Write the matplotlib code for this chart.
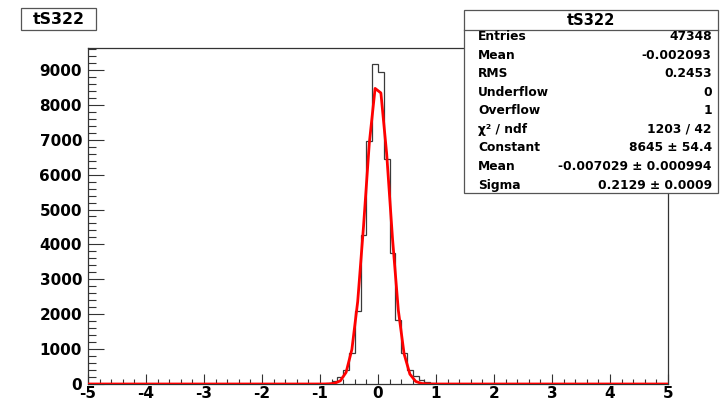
import numpy as np
import matplotlib
matplotlib.use("Agg")
import matplotlib.pyplot as plt
from matplotlib.patches import Rectangle
from matplotlib.lines import Line2D
from matplotlib.ticker import MultipleLocator, FixedLocator

# ---------------- data ----------------
hist_name = "tS322"
x_min, x_max, n_bins = -5.0, 5.0, 100

# lower edges of the non-empty bins and their contents
bin_lows = [-1.1, -1.0, -0.9, -0.8, -0.7, -0.6, -0.5, -0.4, -0.3, -0.2, -0.1,
            0.0, 0.1, 0.2, 0.3, 0.4, 0.5, 0.6, 0.7, 0.8, 0.9, 1.0, 1.1, 1.2]
bin_counts = [5, 12, 30, 75, 205, 410, 890, 2090, 4270, 6960, 9170,
              8930, 6440, 3760, 1840, 890, 400, 220, 110, 55, 25, 12, 6, 3]

fit_constant = 8645.0
fit_mean = -0.007029
fit_sigma = 0.2129

stats_labels = ["Entries", "Mean", "RMS", "Underflow", "Overflow",
                "χ² / ndf", "Constant", "Mean", "Sigma"]
stats_values = ["47348", "-0.002093", "0.2453", "0", "1",
                "1203 / 42", "8645 ± 54.4", "-0.007029 ± 0.000994",
                "0.2129 ± 0.0009"]

y_ticks = [0, 1000, 2000, 3000, 4000, 5000, 6000, 7000, 8000, 9000]
x_ticks = [-5, -4, -3, -2, -1, 0, 1, 2, 3, 4, 5]

# ---------------- figure ----------------
W, H = 724, 399
fig = plt.figure(figsize=(W / 100, H / 100), dpi=100)
fig.patch.set_facecolor("white")

def fx(px):
    return px / W

def fy(py):
    return 1 - py / H

left, right, top, bottom = 88, 668, 48, 384
ax = fig.add_axes([fx(left), fy(bottom), (right - left) / W, (bottom - top) / H])

edges = np.linspace(x_min, x_max, n_bins + 1)
counts = np.zeros(n_bins)
for lo, c in zip(bin_lows, bin_counts):
    idx = int(round((lo - x_min) / (x_max - x_min) * n_bins))
    counts[idx] = c

ax.stairs(counts, edges, color="#3a3a3a", lw=0.9, baseline=0, zorder=2)

centers = 0.5 * (edges[:-1] + edges[1:])
fx_pts = np.concatenate([[x_min], centers, [x_max]])
fy_pts = fit_constant * np.exp(-0.5 * ((fx_pts - fit_mean) / fit_sigma) ** 2)
ax.plot(fx_pts, fy_pts, color="#ff0000", lw=2.0, zorder=3, solid_joinstyle="round")

ax.set_xlim(x_min, x_max)
ax.set_ylim(0, 1.05 * counts.max())

ax.xaxis.set_major_locator(FixedLocator(x_ticks))
ax.xaxis.set_minor_locator(MultipleLocator(0.2))
ax.yaxis.set_major_locator(FixedLocator(y_ticks))
ax.yaxis.set_minor_locator(MultipleLocator(200))

ax.tick_params(axis="both", which="both", direction="in", top=False, right=False,
               width=0.8, color="#333333")
ax.tick_params(axis="y", which="major", length=11.5, pad=4.3)
ax.tick_params(axis="y", which="minor", length=5.8)
ax.tick_params(axis="x", which="major", length=7.2, pad=1.5)
ax.tick_params(axis="x", which="minor", length=3.6)

for lab in ax.get_xticklabels() + ax.get_yticklabels():
    lab.set_fontfamily("DejaVu Sans")
    lab.set_fontweight("bold")
    lab.set_fontsize(11)
ax.set_xticklabels([str(t) for t in x_ticks])
ax.set_yticklabels([str(t) for t in y_ticks])
for lab in ax.get_xticklabels() + ax.get_yticklabels():
    lab.set_fontweight("bold")
    lab.set_fontsize(11)

for sp in ax.spines.values():
    sp.set_color("#333333")
    sp.set_linewidth(0.9)

# ---------------- title box ----------------
fig.patches.append(Rectangle((fx(20.7), fy(30)), fx(96) - fx(20.7), fy(8.3) - fy(30),
                             transform=fig.transFigure, facecolor="white",
                             edgecolor="#555555", lw=0.9, zorder=5))
fig.text(fx(58.3), fy(19.3), hist_name, ha="center", va="center",
         fontsize=11.3, fontweight="bold", zorder=6)

# ---------------- stats box ----------------
sx0, sx1, sy0, sy1 = 464, 718, 10, 193
fig.patches.append(Rectangle((fx(sx0), fy(sy1)), fx(sx1) - fx(sx0), fy(sy0) - fy(sy1),
                             transform=fig.transFigure, facecolor="white",
                             edgecolor="#555555", lw=0.9, zorder=5))
fig.lines.append(Line2D([fx(sx0), fx(sx1)], [fy(30), fy(30)],
                        transform=fig.transFigure, color="#555555", lw=0.9, zorder=6))
fig.text(fx(591), fy(20.5), hist_name, ha="center", va="center",
         fontsize=10.6, fontweight="bold", zorder=7)
row0, drow = 36.7, 18.54
for i, (lab, val) in enumerate(zip(stats_labels, stats_values)):
    yy = fy(row0 + i * drow)
    fig.text(fx(478.3), yy, lab, ha="left", va="center",
             fontsize=8.8, fontweight="bold", zorder=7)
    fig.text(fx(711.7), yy, val, ha="right", va="center",
             fontsize=8.8, fontweight="bold", zorder=7)

fig.savefig("out.png", dpi=100, facecolor="white")
